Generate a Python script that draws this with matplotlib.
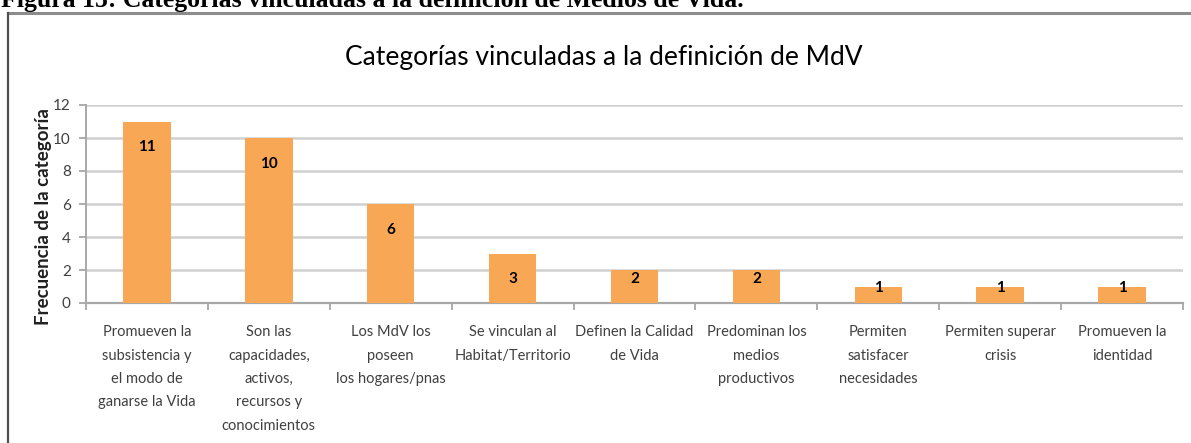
import matplotlib
matplotlib.use("Agg")
import matplotlib.pyplot as plt
from matplotlib.lines import Line2D
import numpy as np

categories = [
    "Promueven la\nsubsistencia y\nel modo de\nganarse la Vida",
    "Son las\ncapacidades,\nactivos,\nrecursos y\nconocimientos",
    "Los MdV los\nposeen\nlos hogares/pnas",
    "Se vinculan al\nHabitat/Territorio",
    "Definen la Calidad\nde Vida",
    "Predominan los\nmedios\nproductivos",
    "Permiten\nsatisfacer\nnecesidades",
    "Permiten superar\ncrisis",
    "Promueven la\nidentidad",
]
values = [11, 10, 6, 3, 2, 2, 1, 1, 1]
yticks = [0, 2, 4, 6, 8, 10, 12]

title = "Categorías vinculadas a la definición de MdV"
caption = "Figura 15: Categorías vinculadas a la definición de Medios de Vida."
ylabel = "Frecuencia de la categoría"

W, H = 1191, 443
DPI = 100
fig = plt.figure(figsize=(W / DPI, H / DPI), dpi=DPI)
fig.patch.set_facecolor("white")

FONT = "Lato"

def fx(px):
    return px / W

def fy(py):
    return 1 - py / H

# caption (cut off at the top, as in the source page)
fig.text(fx(1), fy(7), caption, family="Liberation Serif", weight="bold",
         fontsize=18.5, va="baseline", ha="left", color="black")

# frame lines
fig.add_artist(Line2D([fx(8), 1.0], [fy(13), fy(13)], color="#8c8c8c", lw=2.2,
                      transform=fig.transFigure))
fig.add_artist(Line2D([fx(8), fx(8)], [fy(13), 0.0], color="#505050", lw=1.6,
                      transform=fig.transFigure))

# title
fig.text(fx(604), fy(58), title, family=FONT, fontsize=19, ha="center",
         va="center", color="black")

left, right, y0, ytop = 86, 1183, 303, 105
ax = fig.add_axes([fx(left), fy(y0), fx(right - left), (y0 - ytop) / H])

n = len(values)
x = np.arange(n)
ax.bar(x, values, width=0.39, color="#F8A854", zorder=3)

ax.set_xlim(-0.5, n - 0.5)
ax.set_ylim(0, 12)
ax.set_yticks(yticks)
ax.set_yticklabels([str(t) for t in yticks], family=FONT, fontsize=11,
                   color="#404040")
ax.yaxis.grid(True, color="#d0d0d0", lw=1.8, zorder=0)
ax.set_axisbelow(True)

ax.set_xticks(x)
ax.set_xticklabels(categories, family=FONT, fontsize=10.5, color="#404040",
                   linespacing=1.85, multialignment="center")
ax.tick_params(axis="x", which="major", length=0, pad=16)
ax.set_xticks(np.arange(n + 1) - 0.5, minor=True)
ax.tick_params(axis="x", which="minor", length=5, color="#a0a0a0", width=1.2)
ax.tick_params(axis="y", length=5, color="#a0a0a0", width=1.2, pad=6)

for s in ["top", "right"]:
    ax.spines[s].set_visible(False)
ax.spines["left"].set_color("#a8a8a8")
ax.spines["left"].set_linewidth(1.4)
ax.spines["bottom"].set_color("#a8a8a8")
ax.spines["bottom"].set_linewidth(1.6)

# y-axis title placed as in the reference
fig.text(fx(44), fy(217), ylabel, family=FONT, weight="bold", fontsize=13.5,
         color="#202020", rotation=90, ha="center", va="center")

for xi, v in zip(x, values):
    ly = max(v - 1.55, min(v - 0.1, 1.45))
    ax.text(xi, ly, str(v), ha="center", va="center", family=FONT,
            weight="bold", fontsize=11, color="black", zorder=4)

fig.savefig("out.png", dpi=DPI, facecolor="white")
